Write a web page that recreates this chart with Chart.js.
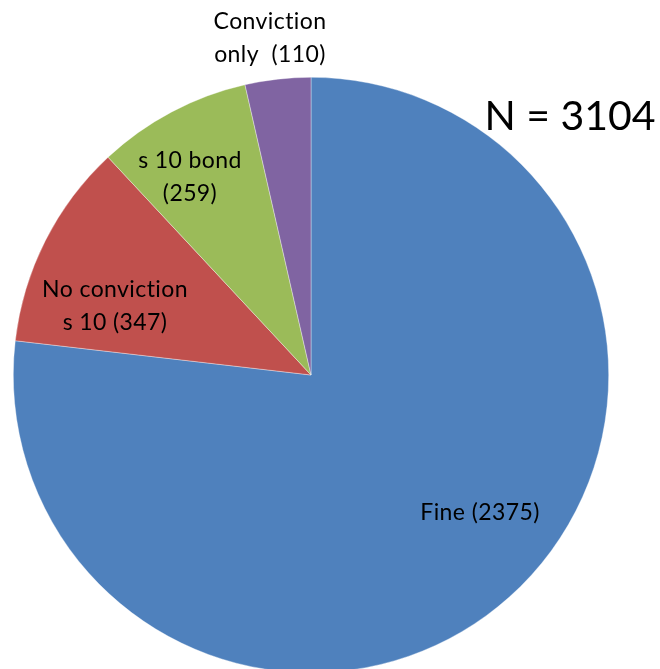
<!DOCTYPE html>
<html>
<head>
<meta charset="utf-8">
<script src="https://cdn.jsdelivr.net/npm/chart.js@4.4.1/dist/chart.umd.min.js"></script>
<style>
  html, body { margin: 0; padding: 0; background: #fff; overflow: hidden; }
  #wrap { position: relative; width: 660px; height: 680px; }
</style>
</head>
<body>
<div id="wrap"><canvas id="pie"></canvas></div>
<script>
const categories = ['Fine', 'No conviction s 10', 's 10 bond', 'Conviction only'];
const counts = [2375, 347, 259, 110];
const colours = ['#4F81BD', '#C0504D', '#9BBB59', '#8064A2'];
const totalN = 3104;

// label text lines and where they sit on the canvas
const labelLines = [
    [['Fine (2375)'], 480, 513],
    [['No conviction', 's 10 (347)'], 115, 290],
    [['s 10 bond', '(259)'], 190, 161],
    [['Conviction', 'only  (110)'], 270, 22]
];

const FONT = 'Lato, "Open Sans", sans-serif';

const sliceLabels = {
    id: 'sliceLabels',
    afterDatasetsDraw(chart) {
        const ctx = chart.ctx;
        ctx.save();
        ctx.fillStyle = '#000';
        ctx.textAlign = 'center';
        ctx.textBaseline = 'middle';
        ctx.letterSpacing = '0.4px';
        ctx.font = '23px ' + FONT;
        labelLines.forEach(function (l) {
            l[0].forEach(function (txt, i) {
                ctx.fillText(txt, l[1], l[2] + i * 33);
            });
        });
        ctx.letterSpacing = '0px';
        ctx.font = '41px ' + FONT;
        ctx.fillText('N = ' + totalN, 570, 117);
        ctx.restore();
    }
};

const config = {
    type: 'pie',
    data: {
        labels: categories,
        datasets: [{
            data: counts,
            backgroundColor: colours,
            borderColor: 'rgba(255,255,255,0.6)',
            borderWidth: 0.6
        }]
    },
    options: {
        responsive: false,
        animation: false,
        layout: { padding: { left: 13, right: 51, top: 77, bottom: 7 } },
        plugins: {
            legend: { display: false },
            tooltip: { enabled: false }
        }
    },
    plugins: [sliceLabels]
};

const canvas = document.getElementById('pie');
canvas.width = 660;
canvas.height = 680;
const myChart = new Chart(canvas, config);
</script>
</body>
</html>
